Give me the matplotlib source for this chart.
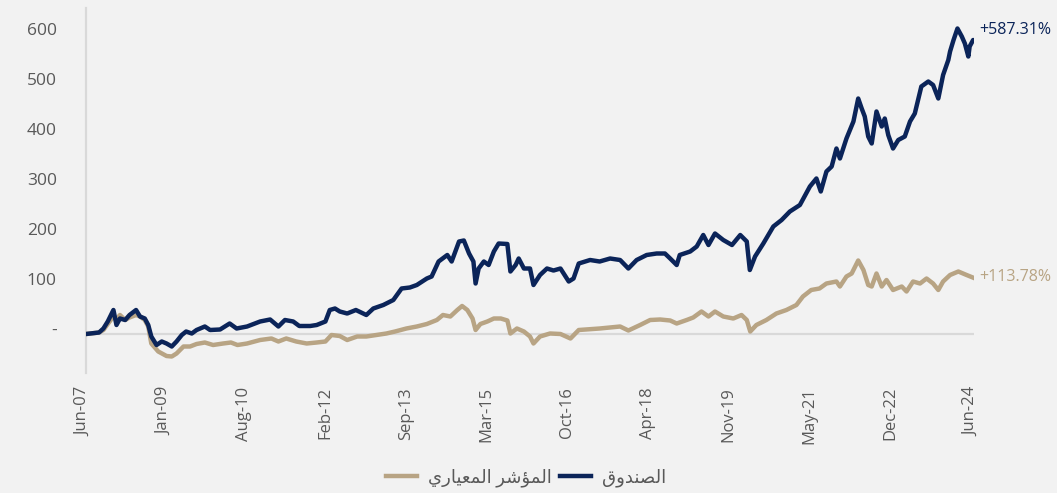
import numpy as np
import matplotlib.pyplot as plt
from matplotlib.transforms import ScaledTranslation

# months since Jun-07 and cumulative return (%)
fund_m = [0, 3, 4, 5, 6.3, 7, 7.8, 9, 10, 11.5, 12.4, 13.5, 14.3, 15, 16.2, 17.4, 18.5,
          19.7, 20.8, 22, 23, 24.3, 25.4, 27.3, 28.5, 30.8, 33, 34.6, 37, 40, 42.3, 44.2,
          45.7, 47.6, 49, 51.5, 53, 55, 56, 57.2, 58.3,
          60, 62, 64.4, 66, 68.3, 70.6, 72.5, 74.4, 76, 78.3, 79.4, 81, 83, 84, 85.7, 86.8,
          88, 89, 89.5, 90.2, 91.4, 92.5, 93.7, 94.8, 96.8, 97.5, 98.7, 99.4, 100.6, 102,
          102.8, 104.3, 105.9, 107.4, 109, 110.9, 112, 113.2,
          115.8, 118, 120.4, 122.7, 124.6, 126.5, 128.8, 131.1, 133, 134.2, 135.7, 136.4,
          138.8, 140.3, 141.8, 143, 144.5, 146.4, 148.4,
          150.3, 151.8, 152.5, 153.7, 155.6, 157.9, 159.8, 161.7, 164, 166.3, 167.8, 168.8,
          170.1, 171.3, 172.4, 173.2, 174.7, 176.3, 177.4, 178.2, 178.9, 179.7, 180.5, 181.6,
          182.8, 183.5, 184.3, 185.4, 186.6, 188.1, 189.3, 190.4, 191.9, 193.5, 194.6, 195.8,
          196.9, 198.1, 198.5, 199.3, 200.2, 201.2, 201.9, 202.7, 203, 203.8, 204]
fund_v = [0, 3, 11, 25, 48, 18, 31, 28, 38, 48, 35, 31, 18, -5, -22, -15, -19,
          -25, -15, -2, 5, 1, 8, 15, 8, 9, 21, 11, 15, 25, 29, 15,
          28, 25, 16, 16, 18, 25, 48, 51, 45,
          41, 48, 38, 51, 58, 68, 91, 93, 98, 111, 115, 145, 158, 145, 185, 187,
          161, 145, 101, 131, 145, 138, 165, 181, 180, 125, 138, 151, 131, 131,
          98, 118, 131, 127, 131, 105, 111, 141,
          148, 145, 151, 148, 131, 148, 158, 161, 161, 151, 138, 158,
          165, 175, 198, 178, 201, 188, 178,
          198, 185, 128, 155, 181, 215, 228, 245, 258, 295, 311, 285,
          325, 335, 371, 351, 391, 425, 471, 451, 435, 395, 381, 445,
          415, 431, 398, 371, 388, 395, 425, 441, 495, 505, 498, 471,
          518, 548, 565, 588, 611, 595, 581, 555, 575, 588, 587]

bench_m = [0, 3, 4, 5, 6.3, 7, 7.8, 9, 10, 11.5, 12.4, 13.5, 14.3, 15, 16.6, 18.5, 19.7,
           20.8, 22.4, 23.9, 25.4, 27.3, 29.2, 31.5, 33.3, 34.8, 37, 40, 42.6, 44.2, 46,
           48.3, 50.7, 53, 55, 56.4, 58.3,
           60, 62.3, 64.4, 66.7, 69, 71, 73.6, 76, 78.3, 80.6, 82, 83.7, 85.3, 86.4, 87.6,
           88.8, 89.5, 90.6, 92.2, 93.7, 95.3, 96.8, 97.5, 99, 100.6, 102, 102.8, 104.3,
           106.6, 109, 111.3, 113.2,
           118, 122.7, 124.6, 127.3, 129.6, 131.9, 134.2, 135.7, 138, 139.5, 141.4, 143,
           144.5, 146.4, 148.7, 150.6, 151.8, 152.6, 154, 156.3, 158.6, 160.9, 163.2, 164.7,
           166.6, 168.5, 170.1, 172.4, 173.2, 174.7, 175.9, 177.4, 178.6, 179.7, 180.5,
           181.6, 182.8, 183.9, 185.4, 187.4, 188.5, 190, 191.6, 193.1, 194.6, 195.8, 196.9,
           198.5, 200.4, 202.3, 204]
bench_v = [0, 3, 8, 20, 35, 30, 38, 28, 33, 38, 35, 28, 15, -19, -35, -44, -45,
           -39, -25, -25, -20, -17, -22, -19, -17, -22, -19, -12, -9, -15, -9,
           -15, -19, -17, -15, -2, -4,
           -12, -5, -5, -2, 1, 5, 11, 15, 20, 28, 38, 35, 48, 56, 48,
           31, 8, 20, 25, 31, 31, 27, 1, 11, 5, -5, -19, -5,
           1, 0, -9, 8,
           11, 15, 7, 18, 28, 29, 27, 21, 28, 33, 45, 35,
           45, 35, 31, 38, 28, 5, 18, 28, 41, 48, 58, 75,
           88, 91, 101, 105, 95, 115, 121, 147, 128, 98, 95,
           121, 95, 108, 88, 95, 85, 105, 101, 111, 101, 88, 105,
           118, 125, 118, 112]

x_labels = ['Jun-07', 'Jan-09', 'Aug-10', 'Feb-12', 'Sep-13', 'Mar-15',
            'Oct-16', 'Apr-18', 'Nov-19', 'May-21', 'Dec-22', 'Jun-24']
y_ticks = [0, 100, 200, 300, 400, 500, 600]
y_labels = ['-', '100', '200', '300', '400', '500', '600']

# Arabic labels written in presentation forms, visual order
fund_label = '\ufed5\ufeed\ufeaa\ufee8\ufebc\ufedf\ufe8d'
bench_label = ('\ufef1\ufead\ufe8e\ufef4\ufecc\ufee4\ufedf\ufe8d '
               '\ufeae\ufeb7\ufe86\ufee4\ufedf\ufe8d')
fund_end = '+587.31%'
bench_end = '+113.78%'

NAVY = '#0b2459'
TAN = '#b8a484'
GREY_TXT = '#595959'
BG = '#f2f2f2'

plt.rcParams['font.family'] = ['Open Sans', 'DejaVu Sans']

fig = plt.figure(figsize=(10.57, 4.93), dpi=100)
fig.patch.set_facecolor(BG)
ax = fig.add_axes([86/1057, 1 - 373/493, 888/1057, 365/493])
ax.set_facecolor(BG)

ax.axhline(0, color='#d9d9d9', lw=1.6, zorder=1)
ax.plot(bench_m, bench_v, color=TAN, lw=3.2, label=bench_label, zorder=3,
        solid_joinstyle='round')
ax.plot(fund_m, fund_v, color=NAVY, lw=3.2, label=fund_label, zorder=4,
        solid_joinstyle='round')

ax.set_xlim(0, 204)
ax.set_ylim(-78, 652)

for s in ['top', 'right', 'bottom']:
    ax.spines[s].set_visible(False)
ax.spines['left'].set_color('#d9d9d9')
ax.spines['left'].set_linewidth(1.6)

ax.set_yticks(y_ticks)
ax.set_yticklabels(y_labels)
ax.tick_params(axis='y', length=0, pad=21, labelsize=12.5, labelcolor=GREY_TXT)
ax.set_xticks(np.arange(len(x_labels)) * 204 / 11)
ax.set_xticklabels(x_labels, rotation=90)
ax.tick_params(axis='x', length=0, pad=10, labelsize=12, labelcolor=GREY_TXT)

# small shifts so the labels sit where the original puts them
for lab in ax.get_yticklabels():
    lab.set_transform(lab.get_transform() + ScaledTranslation(0, 0.05, fig.dpi_scale_trans))
for lab in ax.get_xticklabels():
    lab.set_transform(lab.get_transform() + ScaledTranslation(-0.03, 0, fig.dpi_scale_trans))

ax.text(205.1, 608, fund_end, color=NAVY, fontsize=11.5, ha='left', va='center', clip_on=False)
ax.text(205.1, 114, bench_end, color=TAN, fontsize=11.5, ha='left', va='center', clip_on=False)

leg = fig.legend(loc='center', bbox_to_anchor=(526/1057, 1 - 478/493), ncol=2,
                 frameon=False, fontsize=13, handlelength=1.7, handletextpad=0.6,
                 columnspacing=0.5)
for t in leg.get_texts():
    t.set_color(GREY_TXT)

fig.savefig('out.png', dpi=100, facecolor=BG)
